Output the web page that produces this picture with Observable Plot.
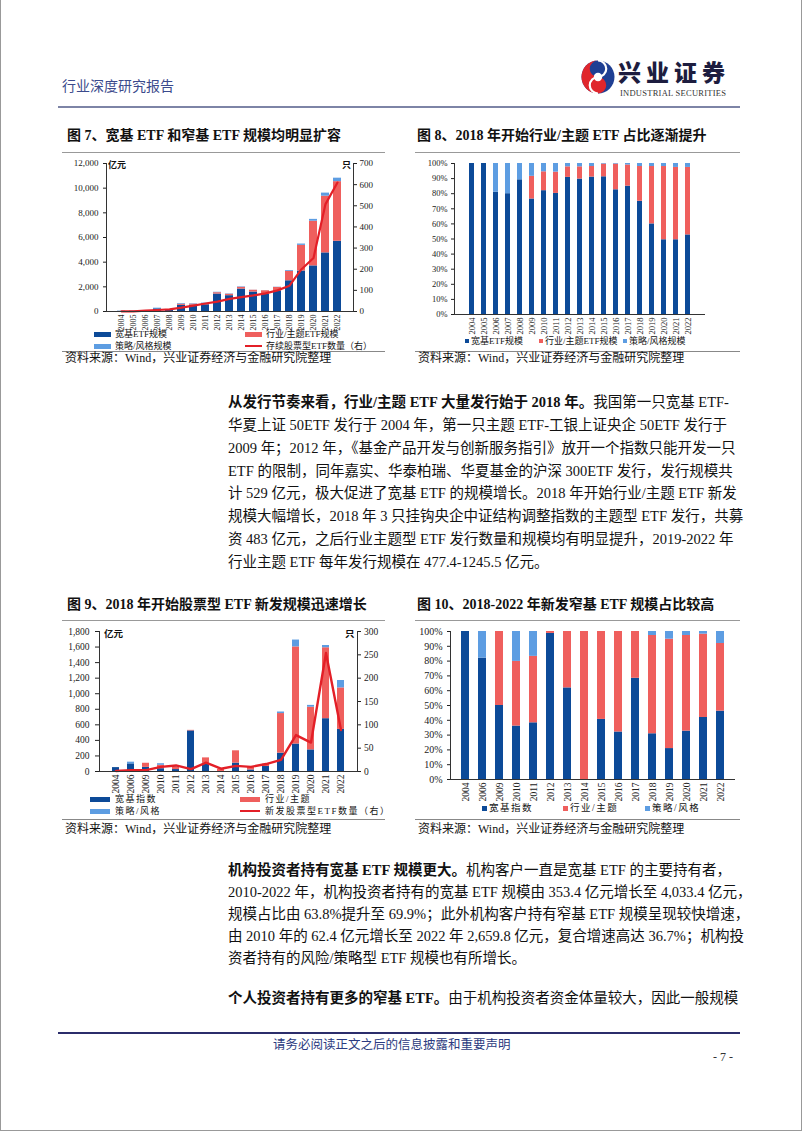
<!DOCTYPE html>
<html><head><meta charset="utf-8">
<script src="https://cdn.jsdelivr.net/npm/d3@7"></script>
<script src="https://cdn.jsdelivr.net/npm/@observablehq/plot@0.6"></script>
<style>
html,body{margin:0;padding:0;background:#fff;}
#page{position:relative;width:802px;height:1133px;overflow:hidden;font-family:"Liberation Serif","Noto Sans CJK SC",serif;color:#111;}
#frame{position:absolute;left:0;top:0;width:800px;height:1130px;border-left:1px solid #999;border-right:1px solid #999;border-bottom:1px solid #999;}
.a{position:absolute;white-space:nowrap;}
.rule{position:absolute;height:0;}
.title{font-weight:bold;font-size:14px;line-height:18px;}
.src{font-size:12px;line-height:14px;}
.ln{position:absolute;left:228px;width:498px;font-size:14.5px;line-height:20px;text-align:justify;text-align-last:justify;white-space:nowrap;}
.ln.last{text-align-last:left;}
.ln b{font-weight:bold;}
.lg{position:absolute;font-size:9px;line-height:11px;white-space:nowrap;}
.sw{position:absolute;}
.chart{position:absolute;}
</style></head>
<body><div id="page"><div id="frame"></div></div>
<script>
// ---------------- data ----------------
const years7 = ["2004","2005","2006","2007","2008","2009","2010","2011","2012","2013","2014","2015","2016","2017","2018","2019","2020","2021","2022"];
const broad7  = [20,25,48,216,134,497,517,545,1416,1283,1820,1578,1396,1675,2490,3282,3698,4752,5697];
const sector7 = [0,0,0,0,0,98,79,96,109,116,140,145,287,276,764,2079,3623,4598,4832];
const style7  = [0,0,11,54,16,55,34,39,35,31,40,7,7,19,66,109,149,250,281];
const count7  = [1,1,4,7,10,18,28,38,47,60,68,76,86,100,122,200,253,508,610];
const names7  = ["宽基ETF规模","行业/主题ETF规模","策略/风格规模"];

const broad8  = [100,100,81,80,89.2,76.5,82,80.2,90.8,89.7,91,91.2,82.6,85,75,60,49.5,49.5,52.7];
const sector8 = [0,0,0,0,0,15,12.5,14.1,7,8.1,7,8.4,17,14,23,38,48.5,47.9,44.7];
const style8  = [0,0,19,20,10.8,8.5,5.5,5.7,2.2,2.2,2,0.4,0.4,1,2,2,2,2.6,2.6];

const years9  = ["2004","2006","2009","2010","2011","2012","2013","2014","2015","2016","2017","2018","2019","2020","2021","2022"];
const broad9  = [50,98,53,36,25,522,108,0,108,20,64,236,353,278,679,541];
const sector9 = [0,0,53,44,29,7,67,30,158,44,30,509,1249,549,912,534];
const style9  = [0,22,0,20,11,0,0,0,0,0,0,20,88,23,29,95];
const count9  = [1,3,3,10,13,5,19,6,12,10,16,25,78,62,254,89];
const names9  = ["宽基指数","行业/主题","策略/风格"];

const broad10  = [100,82,50,36.1,38.3,98.7,61.9,0,40.6,32.1,68.4,30.9,20.9,32.7,41.9,46.2];
const sector10 = [0,0,50,43.7,44.9,1.3,38.1,100,59.4,67.9,31.6,66.4,73.9,64.6,56.3,45.7];
const style10  = [0,18,0,20.2,16.8,0,0,0,0,0,0,2.7,5.2,2.7,1.8,8.1];

const C_DARK = "#0c4a98", C_RED = "#ef5f5d", C_LIGHT = "#5d9de2", C_LINE = "#e31f27";
const COLORS = [C_DARK, C_RED, C_LIGHT];

// ---------------- page helpers ----------------
const page = document.getElementById("page");
function el(tag, cls, style, html){ const e=document.createElement(tag); if(cls) e.className=cls; Object.assign(e.style, style||{}); if(html!=null) e.innerHTML=html; page.appendChild(e); return e; }
function text(x, yc, str, size, opts={}, lhAdd=4){ const lh=size+lhAdd; return el("div","a",Object.assign({left:x+"px",top:(yc-lh/2)+"px",fontSize:size+"px",lineHeight:lh+"px"},opts),str); }
function hrule(x1,x2,y,w,color){ return el("div","rule",{left:x1+"px",top:(y-w/2)+"px",width:(x2-x1)+"px",borderTop:w+"px solid "+color}); }

// header
text(62, 87, "行业深度研究报告", 14, {color:"#3b4a8c"});
hrule(58, 740, 107, 2, "#7d84a6");
el("div","a",{left:"580px",top:"59px",width:"36px",height:"36px"},
 `<svg width="36" height="36" viewBox="0 0 36 36">
   <circle cx="18" cy="18" r="16.5" fill="#1f3f93"/>
   <path d="M18,1.5 A16.5,16.5 0 0 0 18,34.5 A8.25,8.25 0 0 0 18,18 A8.25,8.25 0 0 1 18,1.5 Z" fill="#e0262c"/>
   <path d="M18,1.5 A8.25,8.25 0 0 1 18,18 A8.25,8.25 0 0 0 18,34.5" fill="none" stroke="#fff" stroke-width="2.2"/>
   <circle cx="18" cy="18" r="4.2" fill="#fff"/>
 </svg>`);
text(618, 71, "兴业证券", 23, {fontFamily:"'Noto Sans CJK SC'",fontWeight:"900",color:"#1d1d3f",letterSpacing:"5px"}, -3);
text(620, 93, "INDUSTRIAL SECURITIES", 8.5, {color:"#333",letterSpacing:"0.25px"}, 0);

// figure titles & rules
el("div","a title",{left:"67px",top:"127px"},"图 7、宽基 ETF 和窄基 ETF 规模均明显扩容");
el("div","a title",{left:"417px",top:"127px"},"图 8、2018 年开始行业/主题 ETF 占比逐渐提升");
hrule(62,385,152.5,1.5,"#999"); hrule(415,740,152.5,1.5,"#999");
hrule(62,385,351.5,1.5,"#888"); hrule(415,740,351.5,1.5,"#888");
text(65,358,"资料来源：Wind，兴业证券经济与金融研究院整理",12);
text(418,358,"资料来源：Wind，兴业证券经济与金融研究院整理",12);

el("div","a title",{left:"67px",top:"596px"},"图 9、2018 年开始股票型 ETF 新发规模迅速增长");
el("div","a title",{left:"417px",top:"596px"},"图 10、2018-2022 年新发窄基 ETF 规模占比较高");
hrule(62,385,621,1.5,"#999"); hrule(415,740,621,1.5,"#999");
hrule(62,385,819.5,1.5,"#888"); hrule(415,740,819.5,1.5,"#888");
text(65,829,"资料来源：Wind，兴业证券经济与金融研究院整理",12);
text(418,829,"资料来源：Wind，兴业证券经济与金融研究院整理",12);

// body text
const p1 = [
 "<b>从发行节奏来看，行业/主题 ETF 大量发行始于 2018 年。</b>我国第一只宽基 ETF-",
 "华夏上证 50ETF 发行于 2004 年，第一只主题 ETF-工银上证央企 50ETF 发行于",
 "2009 年；2012 年，《基金产品开发与创新服务指引》放开一个指数只能开发一只",
 "ETF 的限制，同年嘉实、华泰柏瑞、华夏基金的沪深 300ETF 发行，发行规模共",
 "计 529 亿元，极大促进了宽基 ETF 的规模增长。2018 年开始行业/主题 ETF 新发",
 "规模大幅增长，2018 年 3 只挂钩央企中证结构调整指数的主题型 ETF 发行，共募",
 "资 483 亿元，之后行业主题型 ETF 发行数量和规模均有明显提升，2019-2022 年",
 "行业主题 ETF 每年发行规模在 477.4-1245.5 亿元。"];
p1.forEach((s,i)=>el("div","ln"+(i===p1.length-1?" last":""),{top:(402+i*22.85-10)+"px"},s));
const p2 = [
 "<b>机构投资者持有宽基 ETF 规模更大。</b>机构客户一直是宽基 ETF 的主要持有者，",
 "2010-2022 年，机构投资者持有的宽基 ETF 规模由 353.4 亿元增长至 4,033.4 亿元，",
 "规模占比由 63.8%提升至 69.9%；此外机构客户持有窄基 ETF 规模呈现较快增速，",
 "由 2010 年的 62.4 亿元增长至 2022 年 2,659.8 亿元，复合增速高达 36.7%；机构投",
 "资者持有的风险/策略型 ETF 规模也有所增长。"];
p2.forEach((s,i)=>el("div","ln"+(i===p2.length-1?" last":""),{top:(870+i*22.1-10)+"px"},s));
el("div","ln",{top:(998-10)+"px"},"<b>个人投资者持有更多的窄基 ETF。</b>由于机构投资者资金体量较大，因此一般规模");

// footer
hrule(58,740,1033,2,"#2b2d6b");
text(273,1045,"请务必阅读正文之后的信息披露和重要声明",12.5,{color:"#2b3a80"});
text(713,1057,"- 7 -",12,{color:"#333"});

// ---------------- charts ----------------
function rowsOf(years, arrs, names){ return years.flatMap((y,i)=>arrs.map((a,k)=>({year:y, type:names[k], v:a[i]}))); }
function place(node, x, y){ node.style.position="absolute"; node.style.left=x+"px"; node.style.top=y+"px"; page.appendChild(node); }
const baseStyle = (fs)=>({fontFamily:"'Liberation Serif','Noto Sans CJK SC',serif", fontSize:fs+"px", color:"#222", background:"transparent", overflow:"visible"});

// Fig 7
{
 const K = 12000/700;
 const rows = rowsOf(years7,[broad7,sector7,style7],names7);
 const lineRows = years7.map((y,i)=>({year:y, c:count7[i]}));
 const ch = Plot.plot({
  width:323, height:178, marginLeft:44, marginRight:32, marginTop:8, marginBottom:22,
  style: baseStyle(9),
  x:{type:"band", domain:years7, padding:0.33, label:null},
  y:{domain:[0,12000], label:null},
  color:{domain:names7, range:COLORS},
  marks:[
   Plot.barY(rows,{x:"year",y:"v",fill:"type"}),
   Plot.line(lineRows,{x:"year",y:d=>d.c*K,stroke:C_LINE,strokeWidth:2.2}),
   Plot.axisY(d3.range(0,12001,2000),{anchor:"left",tickFormat:d3.format(","),tickSize:3,tickPadding:5,label:null}),
   Plot.axisY(d3.range(0,701,100).map(v=>v*K),{anchor:"right",tickFormat:v=>String(Math.round(v/K)),tickSize:3,tickPadding:3,label:null}),
   Plot.axisX({tickRotate:-90,tickSize:0,tickPadding:3,fontSize:8,label:null}),
   Plot.ruleY([0],{stroke:"#333"}),
   Plot.frame({anchor:"left",stroke:"#333"}),
   Plot.frame({anchor:"right",stroke:"#333"})
  ]
 });
 place(ch,62,155);
 text(108,165,"亿元",9,{fontWeight:"bold"});
 text(342,165,"只",9,{fontWeight:"bold"});
 const lg=[[94,334,C_DARK,names7[0],"bar"],[245,334,C_RED,names7[1],"bar"],[94,346,C_LIGHT,names7[2],"bar"],[245,346,C_LINE,"存续股票型ETF数量（右）","line"]];
 lg.forEach(([x,y,c,t,k])=>{
  el("div","sw",{left:x+"px",top:(y-(k==="bar"?2.5:1.2))+"px",width:"17px",height:(k==="bar"?5:2.4)+"px",background:c});
  el("div","lg",{left:(x+21)+"px",top:(y-5.5)+"px"},t);
 });
}

// Fig 8
{
 const rows = rowsOf(years7,[broad8,sector8,style8],names7);
 const ch = Plot.plot({
  width:325, height:182, marginLeft:39, marginRight:35, marginTop:8, marginBottom:23,
  style: baseStyle(8.5),
  x:{type:"band", domain:years7, padding:0.56, label:null},
  y:{domain:[0,100], label:null},
  color:{domain:names7, range:COLORS},
  marks:[
   Plot.barY(rows,{x:"year",y:"v",fill:"type"}),
   Plot.axisY(d3.range(0,101,10),{anchor:"left",tickFormat:d=>d+"%",tickSize:3,tickPadding:4,label:null}),
   Plot.axisX({tickRotate:-90,tickSize:0,tickPadding:3,fontSize:8.5,label:null}),
   Plot.ruleY([0],{stroke:"#333"}),
   Plot.frame({anchor:"left",stroke:"#333"})
  ]
 });
 place(ch,415,155);
 const lg=[[465,C_DARK,"宽基ETF规模"],[539,C_RED,"行业/主题ETF规模"],[623,C_LIGHT,"策略/风格规模"]];
 lg.forEach(([x,c,t])=>{
  el("div","sw",{left:x+"px",top:(341-2)+"px",width:"4px",height:"4px",background:c});
  el("div","lg",{left:(x+6)+"px",top:(341-5.5)+"px"},t);
 });
}

// Fig 9
{
 const K = 1800/300;
 const rows = rowsOf(years9,[broad9,sector9,style9],names9);
 const lineRows = years9.map((y,i)=>({year:y, c:count9[i]}));
 const ch = Plot.plot({
  width:323, height:174, marginLeft:37, marginRight:28, marginTop:9, marginBottom:25,
  style: baseStyle(9.5),
  x:{type:"band", domain:years9, padding:0.55, label:null},
  y:{domain:[0,1800], label:null},
  color:{domain:names9, range:COLORS},
  marks:[
   Plot.barY(rows,{x:"year",y:"v",fill:"type"}),
   Plot.line(lineRows,{x:"year",y:d=>d.c*K,stroke:C_LINE,strokeWidth:2.4}),
   Plot.axisY(d3.range(0,1801,200),{anchor:"left",tickFormat:d3.format(","),tickSize:4,tickPadding:6,label:null}),
   Plot.axisY(d3.range(0,301,50).map(v=>v*K),{anchor:"right",tickFormat:v=>String(Math.round(v/K)),tickSize:3,tickPadding:3.5,label:null}),
   Plot.axisX({tickRotate:-90,tickSize:0,tickPadding:3,fontSize:9.5,label:null}),
   Plot.ruleY([0],{stroke:"#333"}),
   Plot.frame({anchor:"left",stroke:"#333"}),
   Plot.frame({anchor:"right",stroke:"#333"})
  ]
 });
 place(ch,62,622);
 text(104,635,"亿元",9.5,{fontWeight:"bold"});
 text(345,635,"只",9.5,{fontWeight:"bold"});
 const lg=[[90,799,C_DARK,"宽基指数","bar"],[240,799,C_RED,"行业/主题","bar"],[90,811,C_LIGHT,"策略/风格","bar"],[240,811,C_LINE,"新发股票型ETF数量（右）","line"]];
 lg.forEach(([x,y,c,t,k])=>{
  el("div","sw",{left:x+"px",top:(y-(k==="bar"?2.5:1.3))+"px",width:"20px",height:(k==="bar"?5:2.6)+"px",background:c});
  el("div","lg",{left:(x+25)+"px",top:(y-5.5)+"px",letterSpacing:"1.5px"},t);
 });
}

// Fig 10
{
 const rows = rowsOf(years9,[broad10,sector10,style10],names9);
 const ch = Plot.plot({
  width:325, height:183, marginLeft:35, marginRight:5, marginTop:9, marginBottom:26,
  style: baseStyle(10),
  x:{type:"band", domain:years9, padding:0.55, label:null},
  y:{domain:[0,100], label:null},
  color:{domain:names9, range:COLORS},
  marks:[
   Plot.barY(rows,{x:"year",y:"v",fill:"type"}),
   Plot.axisY(d3.range(0,101,10),{anchor:"left",tickFormat:d=>d+"%",tickSize:3,tickPadding:5,label:null}),
   Plot.axisX({tickRotate:-90,tickSize:0,tickPadding:3,fontSize:9.5,label:null}),
   Plot.ruleY([0],{stroke:"#333"}),
   Plot.frame({anchor:"left",stroke:"#333"})
  ]
 });
 place(ch,415,622);
 const lg=[[482,C_DARK,"宽基指数"],[563,C_RED,"行业/主题"],[645,C_LIGHT,"策略/风格"]];
 lg.forEach(([x,c,t])=>{
  el("div","sw",{left:x+"px",top:(808-2.5)+"px",width:"5px",height:"5px",background:c});
  el("div","lg",{left:(x+7)+"px",top:(808-5.5)+"px",fontSize:"9.5px",letterSpacing:"1.5px"},t);
 });
}
</script>
</body></html>
